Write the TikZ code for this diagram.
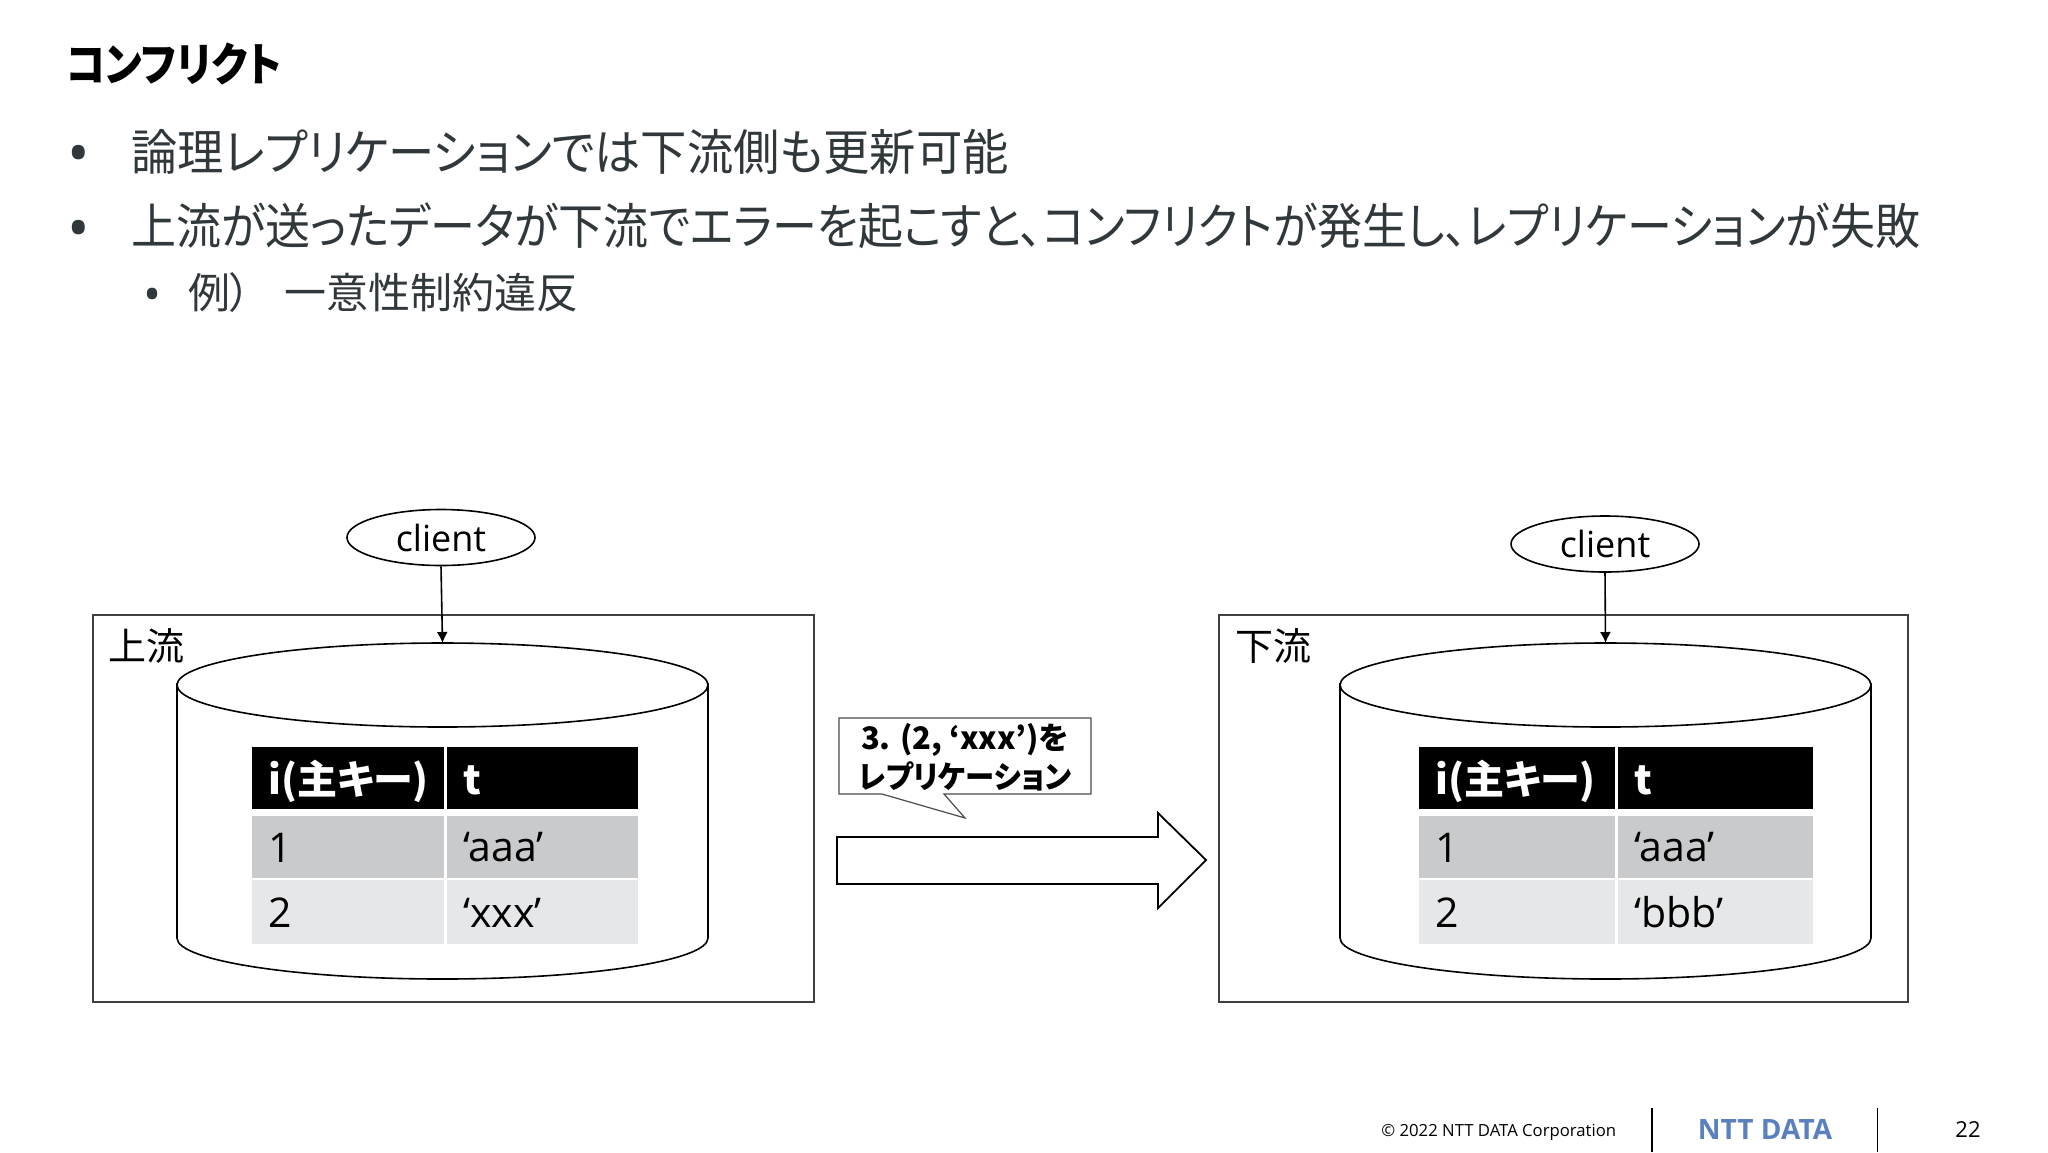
\documentclass[tikz,border=0pt]{standalone}
\usepackage{fontspec}
\usepackage{xcolor}
\usetikzlibrary{shapes.geometric,arrows.meta}
\setmainfont{Noto Sans CJK JP}[RawFeature=+palt]
\newfontfamily\latinfont{Open Sans}
\newfontfamily\bodyfont{Noto Sans CJK JP}[RawFeature=+palt,FakeStretch=0.945]
\newfontfamily\longfont{Noto Sans CJK JP}[RawFeature=+palt,FakeStretch=0.918]
\newfontfamily\titlefont{Noto Sans CJK JP}[RawFeature=+palt,FakeStretch=0.875]
\definecolor{bodytext}{HTML}{30383C}
\definecolor{rowdark}{HTML}{C9CACC}
\definecolor{rowlight}{HTML}{E6E7E9}
\definecolor{logoblue}{HTML}{5B80BE}
\tikzset{
	bodyline/.style={anchor=base west,inner sep=0pt,text=bodytext,font=\bodyfont\fontsize{24.5}{28}\selectfont},
	subline/.style={anchor=base west,inner sep=0pt,text=bodytext,font=\fontsize{21}{25}\selectfont},
	bulletmark/.style={anchor=base west,inner sep=0pt,text=bodytext,font=\latinfont\fontsize{30}{32}\selectfont},
	clientnode/.style={draw,ellipse,line width=0.8pt,inner sep=0pt,minimum width=94pt,minimum height=28pt,font=\latinfont\fontsize{18}{20}\selectfont},
	serverbox/.style={draw=black!75,line width=0.6pt},
	cylinder/.style={draw,fill=white,line width=0.8pt},
	tablecell/.style={anchor=north west,inner xsep=8pt,inner ysep=0pt,align=left,font=\latinfont\fontsize{20.5}{22}\selectfont},
	headcell/.style={tablecell,fill=black,text=white,font=\bfseries\fontsize{20}{22}\selectfont,minimum height=31pt,text height=18pt,text depth=2pt},
	darkcell/.style={tablecell,fill=rowdark,minimum height=31pt},
	lightcell/.style={tablecell,fill=rowlight,minimum height=32pt},
	placelabel/.style={anchor=base west,inner sep=0pt,font=\fontsize{19}{22}\selectfont},
	footertext/.style={inner sep=0pt,font=\latinfont\fontsize{8.35}{10}\selectfont},
	linkarrow/.style={-{Latex[length=5.5pt,width=5.5pt]},line width=0.8pt}
}
\begin{document}
\begin{tikzpicture}[x=0.5pt,y=-0.5pt]
	\useasboundingbox (0,0) rectangle (2048,1152);
	\node[anchor=base west,inner sep=0pt,font=\titlefont\bfseries\fontsize{23}{26}\selectfont] (title) at (66,81) {コンフリクト};
	\node[bulletmark] (bulleta) at (67,174) {•};
	\node[bodyline] (linea) at (131,170) {論理レプリケーションでは下流側も更新可能};
	\node[bulletmark] (bulletb) at (67,249) {•};
	\node[bodyline,font=\longfont\fontsize{24.5}{28}\selectfont] (lineb) at (131,244) {上流が送ったデータが下流でエラーを起こすと、コンフリクトが発生し、レプリケーションが失敗};
	\node[bulletmark,font=\latinfont\fontsize{24}{26}\selectfont] (bulletc) at (143,311) {•};
	\node[subline] (linec) at (188,308) {例）};
	\node[subline] (lined) at (284,308) {一意性制約違反};

	\draw[serverbox] (93,615) rectangle (814,1002);
	\node[placelabel] (upstream) at (108,660) {上流};
	\draw[cylinder] (177,683) -- (177,938) arc[start angle=180,end angle=0,x radius=265.5,y radius=41] -- (708,683);
	\draw[cylinder] (442.5,685) ellipse[x radius=265.5,y radius=42];
	\coordinate (dbtopa) at (442.5,643);
	\node[clientnode] (clienta) at (441,537.5) {client};
	\draw[linkarrow] (clienta.south) -- (dbtopa);

	\node[headcell,text width=80pt] (heada) at (252,747) {i(主キー)};
	\node[headcell,text width=79.5pt] (headb) at (447,747) {t};
	\node[darkcell,text width=80pt] (cella) at (252,816) {1};
	\node[darkcell,text width=79.5pt] (cellb) at (447,816) {‘aaa’};
	\node[lightcell,text width=80pt] (cellc) at (252,880) {2};
	\node[lightcell,text width=79.5pt] (celld) at (447,880) {‘xxx’};

	\draw[draw=black!70,line width=0.6pt,fill=white] (839,718) -- (1091,718) -- (1091,794) -- (944,794) -- (965,818) -- (882,794) -- (839,794) -- cycle;
	\node[inner sep=0pt,align=center,font=\bfseries\fontsize{15.5}{19.5}\selectfont] (callout) at (965,757) {3. (2, ‘xxx’)を\\\bodyfont レプリケーション};
	\draw[line width=0.9pt,fill=white] (837,837) -- (1158,837) -- (1158,813) -- (1206,860) -- (1158,908) -- (1158,884) -- (837,884) -- cycle;

	\draw[serverbox] (1219,615) rectangle (1908,1002);
	\node[placelabel] (downstream) at (1235,660) {下流};
	\draw[cylinder] (1340,683) -- (1340,938) arc[start angle=180,end angle=0,x radius=265.5,y radius=41] -- (1871,683);
	\draw[cylinder] (1605.5,685) ellipse[x radius=265.5,y radius=42];
	\coordinate (dbtopb) at (1605.5,643);
	\node[clientnode] (clientb) at (1605,544) {client};
	\draw[linkarrow] (clientb.south) -- (dbtopb);

	\node[headcell,text width=82pt] (headc) at (1419,747) {i(主キー)};
	\node[headcell,text width=81.5pt] (headd) at (1618,747) {t};
	\node[darkcell,text width=82pt] (celle) at (1419,816) {1};
	\node[darkcell,text width=81.5pt] (cellf) at (1618,816) {‘aaa’};
	\node[lightcell,text width=82pt] (cellg) at (1419,880) {2};
	\node[lightcell,text width=81.5pt] (cellh) at (1618,880) {‘bbb’};

	\node[footertext,anchor=base west] (copyright) at (1381,1136) {© 2022 NTT DATA Corporation};
	\draw[line width=0.8pt] (1652,1108) -- (1652,1152);
	\node[inner sep=0pt,text=logoblue,font=\latinfont\bfseries\fontsize{14}{16}\selectfont] (logo) at (1765,1129) {NTT DATA};
	\draw[line width=0.8pt] (1877.5,1108) -- (1877.5,1152);
	\node[inner sep=0pt,font=\latinfont\fontsize{11}{13}\selectfont] (pageno) at (1968,1130) {22};
\end{tikzpicture}
\end{document}
